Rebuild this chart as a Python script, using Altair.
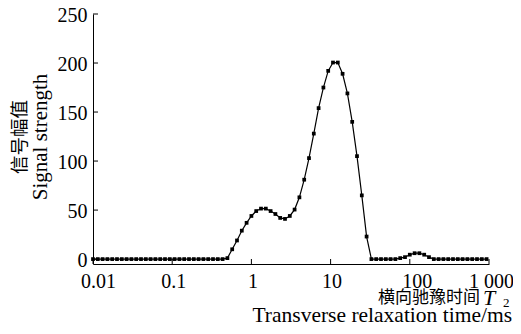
import altair as alt
import pandas as pd

# T2 relaxation time grid (ms)
t2 = [0.01, 0.0115, 0.01322, 0.0152, 0.01748, 0.02009, 0.0231, 0.02656, 0.03054, 0.03511,
      0.04037, 0.04642, 0.05337, 0.06136, 0.07055, 0.08111, 0.09326, 0.1072, 0.1233, 0.1417,
      0.163, 0.1874, 0.2154, 0.2477, 0.2848, 0.3275, 0.3765, 0.4329, 0.4977, 0.5722,
      0.6579, 0.7565, 0.8697,
      1.0, 1.15, 1.322, 1.52, 1.748, 2.009, 2.31, 2.656, 3.054, 3.511,
      4.037, 4.642, 5.337, 6.136, 7.055, 8.111, 9.326, 10.72, 12.33, 14.17,
      16.3, 18.74, 21.54, 24.77, 28.48, 32.75, 37.65, 43.29, 49.77, 57.22,
      65.79, 75.65, 86.97,
      100, 115, 132.2, 152, 174.8, 200.9, 231, 265.6, 305.4, 351.1,
      403.7, 464.2, 533.7, 613.6, 705.5, 811.1, 932.6]

signal = [0] * 28 + [1, 10, 19, 29, 37, 44, 49, 51.5, 51.5, 49,
                     46, 42, 41, 44, 50.5, 63, 81, 103, 128, 154,
                     175, 192, 200.5, 200.5, 189, 169, 140, 105, 65, 23,
                     0, 0, 0, 0, 0, 0, 1, 2, 4.5, 6,
                     6, 4.5, 2, 0] + [0] * 11

x_ticks = [0.01, 0.1, 1, 10, 100, 1000]
y_ticks = [0, 50, 100, 150, 200, 250]

df = pd.DataFrame({"x": t2, "y": signal})
xt = pd.DataFrame({"x": x_ticks})
yt = pd.DataFrame({"y": y_ticks})

W, H = 396, 250
SERIF = "Liberation Serif"
CJK = "Noto Sans CJK SC"

xscale = alt.Scale(type="log", domain=[0.01, 1000], nice=False)
yscale = alt.Scale(domain=[-5, 250], nice=False, zero=False)

x_axis = alt.Axis(
    values=x_ticks, ticks=False, tickSize=0, grid=False, title=None,
    labelFont=SERIF, labelFontSize=20, labelColor="black", labelPadding=7,
    domainColor="black", domainWidth=1,
    labelExpr="datum.value >= 999 ? '1 000' : datum.value >= 99 ? '100' : datum.value >= 9 ? '10' : datum.value >= 0.9 ? '1' : datum.value >= 0.09 ? '0.1' : '0.01'",
    labelOffset={"condition": [
        {"test": "datum.value >= 999", "value": 2},
        {"test": "datum.value >= 99", "value": 7},
        {"test": "datum.value <= 0.011", "value": 5},
    ], "value": 1},
    labelFlush=False, labelOverlap=False,
)
y_axis = alt.Axis(
    values=y_ticks, ticks=False, tickSize=0, grid=False, title=None,
    labelFont=SERIF, labelFontSize=20, labelColor="black", labelPadding=6,
    domainColor="black", domainWidth=1, labelOffset=1.5,
)

line = alt.Chart(df).mark_line(
    color="black", strokeWidth=1.2,
    point=alt.OverlayMarkDef(shape="square", filled=True, size=14, color="black"),
).encode(
    x=alt.X("x:Q", scale=xscale, axis=x_axis),
    y=alt.Y("y:Q", scale=yscale, axis=y_axis),
)

xtick_rules = alt.Chart(xt).mark_rule(color="black", strokeWidth=1).encode(
    x=alt.X("x:Q", scale=xscale, axis=x_axis),
    y=alt.value(H), y2=alt.value(H - 5),
)
ytick_rules = alt.Chart(yt).mark_rule(color="black", strokeWidth=1).encode(
    y=alt.Y("y:Q", scale=yscale, axis=y_axis),
    x=alt.value(0), x2=alt.value(5),
)


def label(text, x, y, font, size, align="center", baseline="middle", angle=0, style="normal"):
    return alt.Chart(alt.Data(values=[{"t": text}])).mark_text(
        font=font, fontSize=size, align=align, baseline=baseline, angle=angle,
        fontStyle=style, color="black",
    ).encode(x=alt.value(x), y=alt.value(y), text="t:N")


# plot origin on the page is (93, 14); right edge of drawable page area is x=513
texts = [
    label("信号幅值", -73, 123, CJK, 18.5, angle=270),
    label("Signal strength", -52, 123, SERIF, 21, angle=270),
    label("横向驰豫时间", 387, 284, CJK, 17, align="right"),
    label("T", 390, 291, SERIF, 22, align="left", baseline="alphabetic", style="italic"),
    label("2", 410, 293, SERIF, 13, align="left", baseline="alphabetic"),
    label("Transverse relaxation time/ms", 419, 308, SERIF, 21.5, align="right", baseline="alphabetic"),
]

chart = alt.layer(line, xtick_rules, ytick_rules, *texts).properties(
    width=W, height=H,
    autosize=alt.AutoSizeParams(type="none"),
    padding={"left": 85, "top": 6, "right": 24, "bottom": 62},
    background="white",
).configure_view(stroke=None)

chart.save("out.html", embed_options={"renderer": "svg", "actions": False})
